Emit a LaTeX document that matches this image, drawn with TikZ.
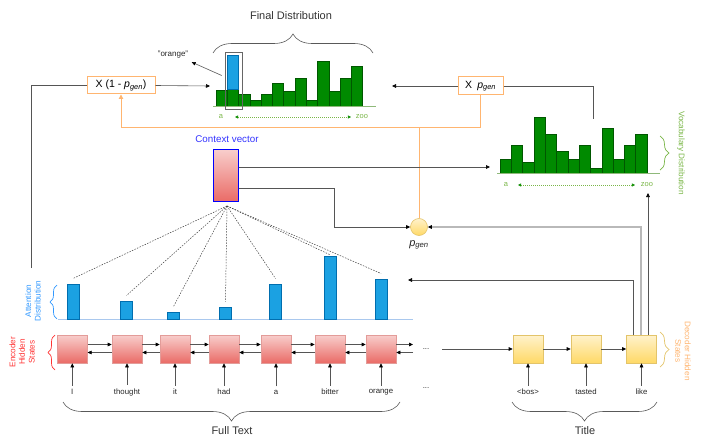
\documentclass[tikz,border=0pt]{standalone}
\usepackage{fontspec}
\setmainfont{Liberation Sans}
\usetikzlibrary{arrows.meta,decorations.pathreplacing}

\definecolor{barGreen}{HTML}{008A00}
\definecolor{barGreenLine}{HTML}{005700}
\definecolor{axisGreen}{HTML}{8FB97A}
\definecolor{lightGreen}{HTML}{7AB648}
\definecolor{attBlue}{HTML}{1BA1E2}
\definecolor{attBlueLine}{HTML}{006EAF}
\definecolor{axisBlue}{HTML}{A9C8EE}
\definecolor{labBlue}{HTML}{3399FF}
\definecolor{ctxBlue}{HTML}{0000FF}
\definecolor{orangeL}{HTML}{FFB570}
\definecolor{encTop}{HTML}{F8CECC}
\definecolor{encBot}{HTML}{EA6B66}
\definecolor{encLine}{HTML}{E39C99}
\definecolor{encLabel}{HTML}{FF3333}
\definecolor{decTop}{HTML}{FFF2CC}
\definecolor{decBot}{HTML}{FFD966}
\definecolor{decLine}{HTML}{E3C46A}
\definecolor{connGray}{HTML}{555555}

\begin{document}
\begin{tikzpicture}[x=1pt,y=-1pt,
  conn/.style={draw=connGray, line width=0.6pt},
  arr/.style={conn, -{Triangle[length=4pt,width=3.6pt,color=black]}},
  arrlight/.style={draw=gray!55, line width=1.3pt, -{Triangle[length=4pt,width=3.6pt,color=black]}},
  orangeln/.style={draw=orangeL, line width=1pt},
  greenbar/.style={fill=barGreen, draw=barGreenLine, line width=0.4pt},
  attbar/.style={fill=attBlue, draw=attBlueLine, line width=0.5pt, minimum width=12pt, inner sep=0pt, anchor=south},
  encbox/.style={draw=encLine, line width=0.6pt, top color=encTop, bottom color=encBot, minimum width=30pt, minimum height=28pt, inner sep=0pt},
  decbox/.style={draw=decLine, line width=0.6pt, top color=decTop, bottom color=decBot, minimum width=30pt, minimum height=28pt, inner sep=0pt},
  mulbox/.style={draw=orangeL, line width=1pt, fill=white, inner sep=0pt, font=\fontsize{10.5}{12}\selectfont},
  tok/.style={font=\fontsize{7.8}{9}\selectfont, text=black!85},
  small/.style={font=\fontsize{7.5}{8.4}\selectfont},
  sidelbl/.style={font=\fontsize{8.2}{9.6}\selectfont},
  bigtitle/.style={font=\fontsize{11}{13}\selectfont, text=black!80},
  dashln/.style={draw=black!75, line width=0.5pt, dash pattern=on 1.5pt off 1.3pt},
  gdots/.style={draw=lightGreen, line width=0.6pt, dash pattern=on 1pt off 1pt, {Triangle[length=3.2pt,width=3.2pt,color=barGreen!80!lightGreen]}-{Triangle[length=3.2pt,width=3.2pt,color=barGreen!80!lightGreen]}},
  bracegray/.style={draw=black!65, line width=0.6pt, decorate},
]
\useasboundingbox (0,0) rectangle (705,436);

% ---------- final distribution ----------
\node[bigtitle] (ftitle) at (291,16) {Final Distribution};
\draw[bracegray, decoration={brace, amplitude=19pt}] (213,53) -- (373,53);
\foreach \t [count=\i] in {90.7,89,94,100,94,83,91,78,100,61,91,78,66}
  \draw[greenbar] ({216+(\i-1)*11.28},106) rectangle ({216+\i*11.28},\t);
\draw[fill=attBlue, draw=attBlueLine, line width=0.4pt] (227.3,55) rectangle (238.6,89);
\draw[draw=axisGreen, line width=0.8pt] (213,106) -- (376,106);
\node[draw=black!60, line width=0.6pt, minimum width=17pt, minimum height=57pt, inner sep=0pt] (hl) at (233.5,80.5) {};
\node[font=\fontsize{8}{9}\selectfont, text=black!85] (orglbl) at (173,55) {"orange"};
\draw[arr] ([shift={(-3pt,5pt)}]hl.west) -- (orglbl.south east);
\node[small, text=lightGreen] (fa) at (221,117) {a};
\node[small, text=lightGreen] (fzoo) at (362,117) {zoo};
\draw[gdots] (235,117) -- (351,117);
\coordinate (fdL) at (210,86);
\coordinate (fdR) at (392,86);

% ---------- vocabulary distribution ----------
\foreach \t [count=\i] in {158.7,145,162,117,134,151,159,145,168,128,159,145,134}
  \draw[greenbar] ({500+(\i-1)*11.3},173) rectangle ({500+\i*11.3},\t);
\draw[draw=axisGreen, line width=0.8pt] (497,173) -- (660,173);
\node[small, text=lightGreen] (va) at (506,185) {a};
\node[small, text=lightGreen] (vzoo) at (647,185) {zoo};
\draw[gdots] (518,185) -- (635,185);
\draw[draw=lightGreen, line width=0.7pt, decorate, decoration={brace, amplitude=9pt}] (660,136) -- (660,170);
\node[sidelbl, text=lightGreen, rotate=-90] (vlabel) at (681,153) {Vocabulary Distribution};
\coordinate (vdIn) at (490,167);
\coordinate (vdTop) at (593,119);
\coordinate (vdZoo) at (648,193);

% ---------- multiplier boxes ----------
\node[mulbox, minimum width=68pt, minimum height=17pt] (m1) at (121,85.5) {X (1 - \textit{p}\textsubscript{\textit{gen}})};
\node[mulbox, minimum width=45pt, minimum height=18pt] (m2) at (480.5,86) {X\enspace\textit{p}\textsubscript{\textit{gen}}};
\coordinate (attL) at (31,268);
\draw[conn] (attL) |- (m1.west);
\draw[arr] (m1.east) -- (fdL);
\draw[arr] (m2.west) -- (fdR);
\draw[conn] (m2.east) -| (vdTop);

% ---------- context vector and p_gen ----------
\node[font=\fontsize{9.8}{11}\selectfont, text=ctxBlue!80] (cvlbl) at (227,139) {Context vector};
\node[draw=ctxBlue, line width=1.2pt, top color=encTop, bottom color=encBot, minimum width=25pt, minimum height=52pt, inner sep=0pt] (cv) at (226,175.5) {};
\node[circle, draw=decLine, line width=0.6pt, top color=decTop, bottom color=decBot, minimum size=17pt, inner sep=0pt] (pg) at (419,227) {};
\node[font=\fontsize{11}{12}\selectfont, text=black!85] (pglbl) at (419,245) {\textit{p}\textsubscript{\textit{gen}}};
\coordinate (oj) at (419,128);
\draw[orangeln] (pg.north) -- (oj);
\draw[orangeln, -{Triangle[length=4.5pt,width=4.5pt]}] (oj) -| (m1.south);
\draw[orangeln] (oj) -| (m2.south);
\draw[arr] ([yshift=8.5pt]cv.east) -- (vdIn);
\draw[arr] ([yshift=-12.5pt]cv.east) -- (334,188) -- (334,227) -- (pg.west);

% ---------- attention distribution ----------
\draw[draw=axisBlue, line width=1pt] (58,319) -- (413,319);
\foreach \n/\x/\h in {a1/73/35, a2/126.5/18, a3/173.5/7, a4/225.5/12, a5/275.5/35, a6/330.5/63, a7/381/40}
  \node[attbar, minimum height=\h pt] (\n) at (\x,319) {};
\coordinate (cvs) at (227,206);
\foreach \n in {a1,a2,a3,a4,a5,a7}
  \draw[dashln] (cvs) -- ([yshift=5pt]\n.north);
\draw[dashln] (cvs) -- ([yshift=0.5pt]a6.north);
\draw[draw=labBlue, line width=0.7pt, decorate, decoration={brace, amplitude=7pt}] (57,319) -- (57,285);
\node[sidelbl, text=labBlue, rotate=90, align=center] (attlbl) at (33,301) {Attention\\Distribution};
\coordinate (attIn) at (408,280);

% ---------- encoder ----------
\foreach \n/\x in {e1/72.3, e2/127, e3/175, e4/224, e5/276, e6/330, e7/381}
  \node[encbox] (\n) at (\x,349) {};
\foreach \a/\b in {e1/e2, e2/e3, e3/e4, e4/e5, e5/e6, e6/e7} {
  \draw[arr] ([yshift=4.5pt]\a.east) -- ([yshift=4.5pt]\b.west);
  \draw[arr] ([yshift=-3.5pt]\b.west) -- ([yshift=-3.5pt]\a.east);
}
\coordinate (encR) at (413,349);
\draw[arr] ([yshift=4.5pt]e7.east) -- ([yshift=4.5pt]encR);
\draw[arr] ([yshift=-3.5pt]encR) -- ([yshift=-3.5pt]e7.east);
\node[tok] (dots1) at (426,349) {...};
\draw[draw=encLabel, line width=0.7pt, decorate, decoration={brace, amplitude=7pt}] (55,370) -- (55,335);
\node[sidelbl, text=encLabel, rotate=90, align=center] (enclbl) at (22,352) {Encoder\\Hidden\\States};

\foreach \n/\w/\x in {t1/I/72.3, t2/thought/127, t3/it/175, t4/had/224, t5/a/276, t6/bitter/330, t7/orange/381}
  \node[tok] (\n) at (\x,392) {\w};
\foreach \i in {1,...,7}
  \draw[arr] (t\i.north) -- (e\i.south);
\node[tok] (dots2) at (426,388) {...};

% ---------- decoder ----------
\foreach \n/\x in {d1/528, d2/586, d3/641.5}
  \node[decbox] (\n) at (\x,349) {};
\coordinate (decIn) at (442,349);
\draw[arr] (decIn) -- (d1.west);
\draw[arr] (d1.east) -- (d2.west);
\draw[arr] (d2.east) -- (d3.west);
\foreach \n/\w/\x in {u1/{<bos>}/528, u2/tasted/586, u3/like/641.5}
  \node[tok] (\n) at (\x,392) {\w};
\draw[arr] (u1.north) -- (d1.south);
\draw[arr] (u2.north) -- (d2.south);
\draw[arr] (u3.north) -- (d3.south);
\draw[draw=decLine, line width=0.7pt, decorate, decoration={brace, amplitude=9pt}] (660,332) -- (660,367);
\node[sidelbl, text=orangeL, rotate=-90, align=center] (declbl) at (683,351) {Decoder Hidden\\States};

\draw[arr] ([xshift=-8.5pt]d3.north) |- (attIn);
\draw[arrlight] ([xshift=-0.5pt]d3.north) |- (pg.east);
\draw[arr] ([xshift=6.5pt]d3.north) -- (vdZoo);

% ---------- bottom braces ----------
\draw[bracegray, decoration={brace, amplitude=19pt}] (400,402) -- (63,402);
\node[bigtitle] (fulltext) at (232,431) {Full Text};
\draw[bracegray, decoration={brace, amplitude=19pt}] (657,402) -- (512,402);
\node[bigtitle] (ttl) at (585,431) {Title};
\end{tikzpicture}
\end{document}
